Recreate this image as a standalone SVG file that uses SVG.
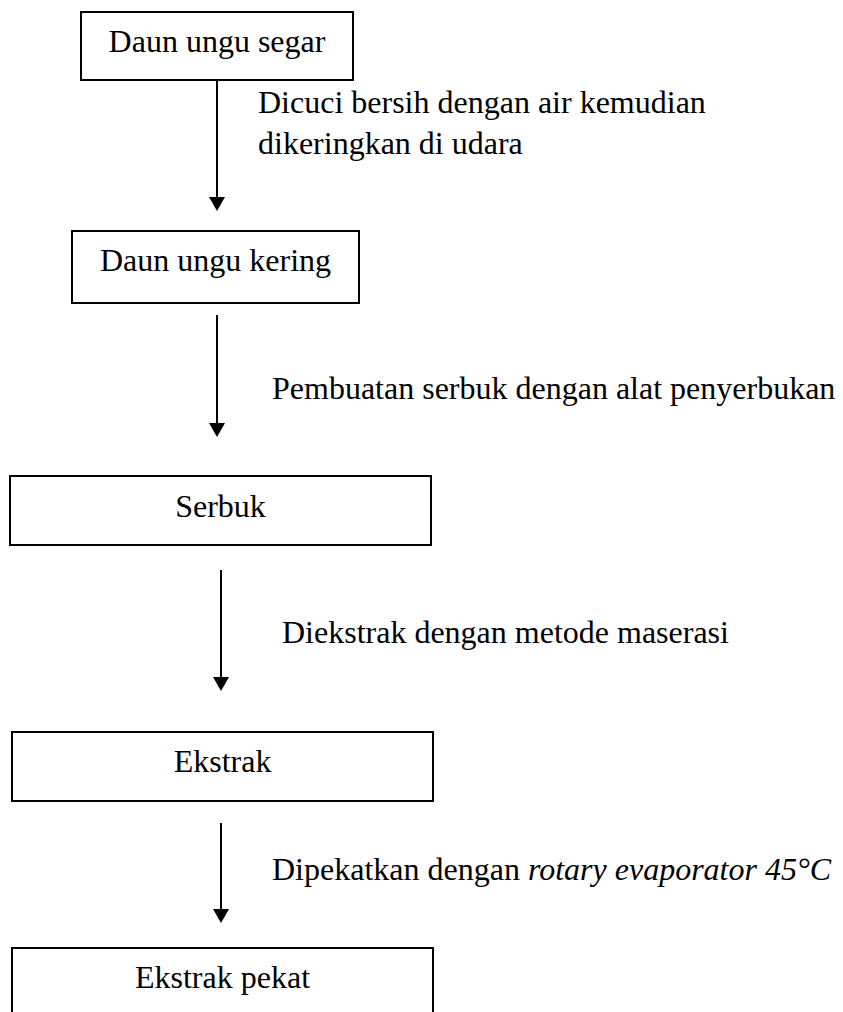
<svg xmlns="http://www.w3.org/2000/svg" width="843" height="1012" viewBox="0 0 843 1012">
<style>
.box{fill:#fff;stroke:#000;stroke-width:2}
.lbl{font-family:"Liberation Serif","Times New Roman",serif;font-size:32px;fill:#000}
.c{text-anchor:middle}
.conn{stroke:#000;stroke-width:2;fill:none}
</style>
<defs>
<marker id="ah" viewBox="0 0 14 16" refX="0" refY="8" markerWidth="14" markerHeight="16" markerUnits="userSpaceOnUse" orient="auto">
<path d="M0,0 L14,8 L0,16 z" fill="#000"/>
</marker>
</defs>
<rect width="843" height="1012" fill="#fff"/>
<g id="connectors">
<line class="conn" x1="217" y1="80" x2="217" y2="197" marker-end="url(#ah)"/>
<line class="conn" x1="217" y1="315" x2="217" y2="423" marker-end="url(#ah)"/>
<line class="conn" x1="221" y1="570" x2="221" y2="677" marker-end="url(#ah)"/>
<line class="conn" x1="221" y1="823" x2="221" y2="909" marker-end="url(#ah)"/>
</g>
<g id="node-daun-segar">
<rect class="box" x="81" y="12" width="272" height="68"/>
<text class="lbl c" x="217" y="52">Daun ungu segar</text>
</g>
<g id="node-daun-kering">
<rect class="box" x="72" y="231" width="287" height="72"/>
<text class="lbl c" x="215.5" y="271">Daun ungu kering</text>
</g>
<g id="node-serbuk">
<rect class="box" x="10" y="476" width="421" height="69"/>
<text class="lbl c" x="220.5" y="517">Serbuk</text>
</g>
<g id="node-ekstrak">
<rect class="box" x="12" y="732" width="421" height="69"/>
<text class="lbl c" x="222.5" y="772">Ekstrak</text>
</g>
<g id="node-ekstrak-pekat">
<rect class="box" x="12" y="948" width="421" height="80"/>
<text class="lbl c" x="222.5" y="988">Ekstrak pekat</text>
</g>
<g id="labels">
<text class="lbl" x="258" y="113">Dicuci bersih dengan air kemudian</text>
<text class="lbl" x="258" y="154">dikeringkan di udara</text>
<text class="lbl" x="272" y="399">Pembuatan serbuk dengan alat penyerbukan</text>
<text class="lbl" x="282" y="643">Diekstrak dengan metode maserasi</text>
<text class="lbl" x="272" y="880">Dipekatkan dengan <tspan font-style="italic">rotary evaporator 45°C</tspan></text>
</g>
</svg>
